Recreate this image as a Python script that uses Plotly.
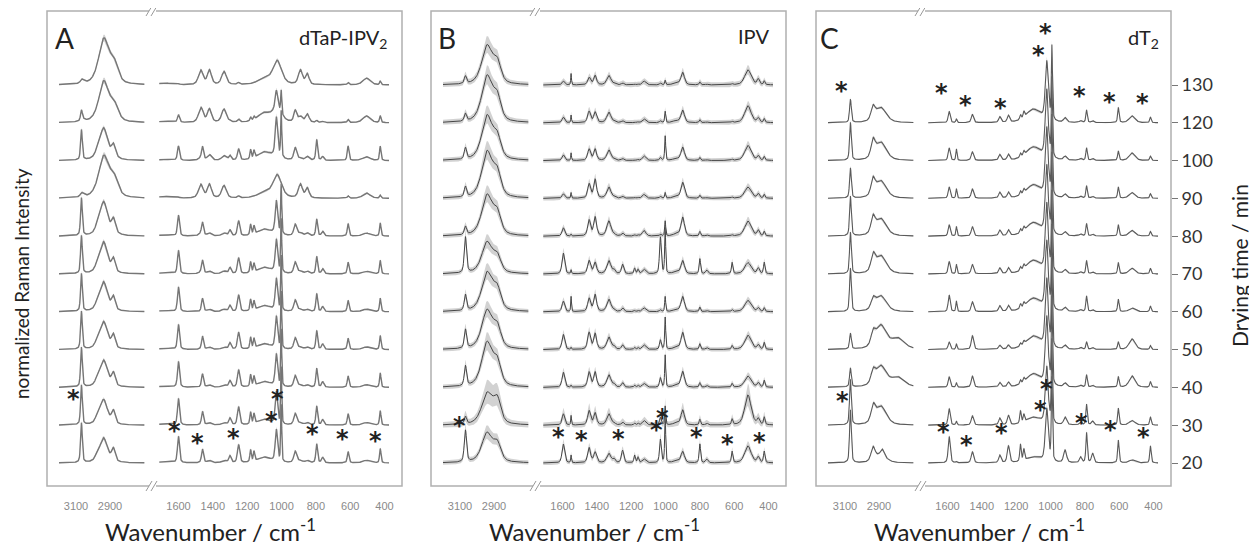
import numpy as np
import plotly.graph_objects as go

W, H = 1257, 547

# ---------------- data ----------------
times_AB = [20, 30, 40, 50, 60, 70, 80, 90, 100, 120, 130]
times_C = [20, 30, 40, 50, 60, 70, 80, 90, 100, 120]
time_ticks = [20, 30, 40, 50, 60, 70, 80, 90, 100, 120, 130]

high_ticks = [3100, 2900]
low_ticks = [1600, 1400, 1200, 1000, 800, 600, 400]

# Panel A  (dTaP-IPV2): peak centres (cm-1), half widths (cm-1), heights per row
A_high_pos = [3068, 3060, 2975, 2938, 2935, 2880, 2875]
A_high_hw = [6, 15, 14, 24, 40, 12, 28]
A_high = [
    [1.05, 0, 0.12, 0.50, 0.15, 0.33, 0],
    [1.05, 0, 0.12, 0.52, 0.15, 0.33, 0],
    [1.05, 0, 0.12, 0.55, 0.16, 0.33, 0],
    [1.00, 0, 0.12, 0.55, 0.18, 0.33, 0],
    [1.00, 0, 0.12, 0.58, 0.20, 0.33, 0],
    [1.00, 0, 0.12, 0.62, 0.22, 0.33, 0],
    [1.00, 0, 0.12, 0.65, 0.25, 0.33, 0.05],
    [0.05, 0.08, 0, 0.18, 0.92, 0, 0.42],
    [0.80, 0, 0.10, 0.55, 0.30, 0.28, 0.05],
    [0.25, 0.06, 0, 0.28, 0.80, 0, 0.38],
    [0.05, 0.08, 0, 0.20, 1.00, 0, 0.45],
]
A_low_pos = [1680, 1600, 1470, 1460, 1420, 1335, 1300, 1250, 1180, 1160, 1100,
             1030, 1025, 1002, 920, 890, 850, 795, 760, 612, 505, 425]
A_low_hw = [50, 7, 16, 7, 14, 16, 8, 8, 5, 5, 45, 8, 30, 3.5, 10, 14, 12, 6, 8, 6, 25, 5]
A_low = [
    [0.03, 0.70, 0, 0.36, 0.06, 0.06, 0.18, 0.48, 0.32, 0.26, 0.15, 0.85, 0, 1.5, 0.30, 0.06, 0.06, 0.50, 0.14, 0.30, 0.07, 0.38],
    [0.03, 0.70, 0, 0.36, 0.06, 0.06, 0.18, 0.48, 0.32, 0.26, 0.15, 0.85, 0, 1.5, 0.30, 0.06, 0.06, 0.50, 0.14, 0.30, 0.07, 0.38],
    [0.03, 0.68, 0, 0.35, 0.06, 0.06, 0.17, 0.46, 0.31, 0.25, 0.15, 0.85, 0, 1.5, 0.30, 0.06, 0.06, 0.50, 0.14, 0.30, 0.07, 0.38],
    [0.03, 0.66, 0, 0.35, 0.06, 0.06, 0.17, 0.45, 0.30, 0.25, 0.15, 0.85, 0, 1.5, 0.30, 0.06, 0.06, 0.50, 0.14, 0.30, 0.07, 0.37],
    [0.03, 0.65, 0, 0.35, 0.06, 0.06, 0.16, 0.44, 0.30, 0.24, 0.16, 0.85, 0, 1.45, 0.30, 0.06, 0.06, 0.48, 0.13, 0.30, 0.07, 0.36],
    [0.03, 0.62, 0.03, 0.34, 0.07, 0.07, 0.16, 0.42, 0.29, 0.23, 0.17, 0.85, 0.03, 1.4, 0.30, 0.07, 0.07, 0.46, 0.13, 0.31, 0.07, 0.36],
    [0.03, 0.55, 0.05, 0.33, 0.08, 0.08, 0.15, 0.40, 0.28, 0.22, 0.18, 0.85, 0.05, 1.3, 0.30, 0.08, 0.08, 0.45, 0.12, 0.33, 0.08, 0.35],
    [0.05, 0.02, 0.36, 0, 0.36, 0.33, 0, 0.05, 0, 0, 0.14, 0, 0.60, 0, 0, 0.36, 0.26, 0, 0, 0.06, 0.14, 0.08],
    [0.03, 0.38, 0.05, 0.33, 0.15, 0.12, 0.12, 0.30, 0.25, 0.20, 0.22, 1.00, 0.10, 1.2, 0.33, 0.05, 0.10, 0.55, 0.10, 0.38, 0.10, 0.38],
    [0.04, 0.20, 0.38, 0.03, 0.35, 0.35, 0.03, 0.08, 0.10, 0.08, 0.25, 0.45, 0.35, 0.6, 0.30, 0.15, 0.22, 0.05, 0.03, 0.08, 0.18, 0.18],
    [0.05, 0.02, 0.38, 0, 0.38, 0.35, 0, 0.05, 0, 0, 0.15, 0, 0.62, 0, 0, 0.38, 0.28, 0, 0, 0.06, 0.18, 0.10],
]
A_band_const = [0.012] * 11
A_band_rel = [0.06] * 11

# Panel B (IPV)
B_high_pos = [3068, 2945, 2935, 2880]
B_high_hw = [8, 28, 45, 25]
B_high = [
    [0.84, 0.30, 0.50, 0.40],
    [0.20, 0.25, 0.60, 0.55],
    [0.53, 0.40, 0.80, 0.50],
    [0.50, 0.35, 0.70, 0.45],
    [0.42, 0.35, 0.70, 0.45],
    [0.95, 0.30, 0.55, 0.35],
    [0.22, 0.35, 0.75, 0.45],
    [0.27, 0.40, 0.85, 0.50],
    [0.30, 0.40, 0.80, 0.45],
    [0.20, 0.40, 0.85, 0.50],
    [0.20, 0.35, 0.70, 0.45],
]
B_low_pos = [1595, 1550, 1445, 1410, 1330, 1300, 1250, 1180, 1160, 1125,
             1030, 1002, 940, 900, 800, 760, 612, 520, 460, 425]
B_low_hw = [9, 2.5, 10, 10, 14, 8, 8, 5, 5, 12, 6, 3.5, 20, 12, 5, 8, 5, 22, 8, 5]
B_low = [
    [0.50, 0.20, 0.40, 0.28, 0.25, 0.10, 0.33, 0.20, 0.15, 0.10, 0.62, 1.25, 0.05, 0.30, 0.50, 0.10, 0.30, 0.45, 0.15, 0.30],
    [0.30, 0.25, 0.38, 0.32, 0.30, 0.05, 0.08, 0.05, 0.05, 0.12, 0.20, 0.50, 0.05, 0.40, 0.15, 0.05, 0.15, 0.80, 0.15, 0.20],
    [0.40, 0.05, 0.40, 0.40, 0.33, 0.08, 0.12, 0.05, 0.05, 0.10, 0.25, 0.85, 0.05, 0.42, 0.12, 0.05, 0.10, 0.30, 0.12, 0.18],
    [0.40, 0.05, 0.45, 0.42, 0.33, 0.08, 0.12, 0.05, 0.05, 0.12, 0.25, 0.85, 0.05, 0.45, 0.15, 0.05, 0.10, 0.38, 0.12, 0.18],
    [0.28, 0.40, 0.35, 0.45, 0.33, 0.05, 0.10, 0.03, 0.03, 0.10, 0.05, 0.40, 0.05, 0.40, 0.12, 0.03, 0.05, 0.30, 0.10, 0.10],
    [0.55, 0.10, 0.35, 0.30, 0.35, 0.10, 0.25, 0.15, 0.12, 0.12, 1.00, 1.20, 0.05, 0.35, 0.40, 0.10, 0.30, 0.30, 0.15, 0.30],
    [0.22, 0.05, 0.42, 0.50, 0.40, 0.05, 0.08, 0.03, 0.03, 0.15, 0.05, 0.40, 0.05, 0.50, 0.12, 0.03, 0.03, 0.40, 0.15, 0.12],
    [0.12, 0.15, 0.38, 0.50, 0.30, 0.03, 0.05, 0.02, 0.02, 0.10, 0.05, 0.15, 0.05, 0.42, 0.08, 0.02, 0.03, 0.30, 0.12, 0.10],
    [0.15, 0.20, 0.30, 0.30, 0.28, 0.03, 0.05, 0.02, 0.02, 0.12, 0.08, 0.65, 0.05, 0.35, 0.08, 0.02, 0.03, 0.40, 0.12, 0.10],
    [0.15, 0.20, 0.30, 0.28, 0.28, 0.03, 0.05, 0.02, 0.02, 0.10, 0.05, 0.30, 0.05, 0.33, 0.08, 0.02, 0.03, 0.45, 0.12, 0.10],
    [0.10, 0.30, 0.20, 0.25, 0.25, 0.03, 0.05, 0.02, 0.02, 0.10, 0.05, 0.12, 0.05, 0.33, 0.08, 0.02, 0.03, 0.40, 0.15, 0.10],
]
B_band_const = [0.055, 0.07, 0.055, 0.055, 0.055, 0.055, 0.055, 0.055, 0.055, 0.06, 0.065]
B_band_rel = [0.15, 0.28, 0.15, 0.15, 0.15, 0.15, 0.15, 0.15, 0.15, 0.15, 0.15]

# Panel C (dT2)
C_high_pos = [3068, 2935, 2890, 2880, 2790]
C_high_hw = [6, 14, 38, 10, 45]
C_high = [
    [1.40, 0.35, 0.22, 0.15, 0],
    [1.20, 0.40, 0.50, 0, 0],
    [0.50, 0.30, 0.55, 0, 0.25],
    [0.42, 0.30, 0.62, 0, 0.28],
    [1.15, 0.25, 0.42, 0, 0],
    [1.10, 0.40, 0.48, 0, 0],
    [1.05, 0.40, 0.46, 0, 0],
    [0.80, 0.40, 0.46, 0, 0],
    [1.00, 0.42, 0.48, 0, 0],
    [0.62, 0.32, 0.40, 0, 0],
]
C_low_pos = [1590, 1548, 1455, 1295, 1245, 1175, 1155, 1100, 1022, 992,
             915, 825, 790, 755, 605, 525, 418]
C_low_hw = [7, 4, 8, 8, 8, 5, 5, 50, 10, 4, 10, 8, 5, 8, 5, 20, 5]
C_low = [
    [0.70, 0.03, 0.30, 0.20, 0.45, 0.45, 0.30, 0.15, 1.40, 2.2, 0.33, 0.15, 0.80, 0.25, 0.60, 0.08, 0.45],
    [0.44, 0.10, 0.25, 0.18, 0.25, 0.33, 0.20, 0.20, 1.50, 2.2, 0.20, 0.08, 0.55, 0.10, 0.45, 0.12, 0.22],
    [0.28, 0.12, 0.30, 0.12, 0.12, 0.10, 0.10, 0.35, 1.80, 2.3, 0.10, 0.05, 0.33, 0.05, 0.28, 0.30, 0.15],
    [0.20, 0.15, 0.37, 0.10, 0.10, 0.08, 0.08, 0.35, 1.80, 2.3, 0.10, 0.05, 0.20, 0.05, 0.20, 0.28, 0.10],
    [0.44, 0.28, 0.26, 0.15, 0.15, 0.12, 0.10, 0.35, 1.80, 2.2, 0.10, 0.05, 0.41, 0.05, 0.33, 0.10, 0.15],
    [0.33, 0.25, 0.25, 0.15, 0.15, 0.10, 0.10, 0.35, 1.80, 2.1, 0.10, 0.05, 0.35, 0.05, 0.30, 0.15, 0.15],
    [0.30, 0.25, 0.25, 0.15, 0.15, 0.10, 0.10, 0.35, 1.80, 2.1, 0.10, 0.05, 0.33, 0.05, 0.30, 0.15, 0.12],
    [0.30, 0.25, 0.25, 0.15, 0.15, 0.10, 0.10, 0.35, 1.80, 2.1, 0.10, 0.05, 0.33, 0.05, 0.30, 0.15, 0.12],
    [0.33, 0.30, 0.23, 0.15, 0.15, 0.10, 0.10, 0.35, 1.80, 2.1, 0.10, 0.05, 0.33, 0.05, 0.25, 0.20, 0.12],
    [0.30, 0.10, 0.22, 0.15, 0.18, 0.12, 0.15, 0.35, 1.55, 1.95, 0.12, 0.05, 0.33, 0.05, 0.40, 0.18, 0.15],
]
C_band_const = [0.015] * 10
C_band_rel = [0.05] * 10

# asterisk marks: (wavenumber, height in row units)
A_marks_wn = [3112, 1626, 1488, 1281, 1057, 1022, 821, 646, 451]
A_marks_h = [1.83, 0.98, 0.66, 0.80, 1.24, 1.83, 0.89, 0.76, 0.71]
B_marks_wn = [3104, 1624, 1488, 1271, 1055, 1019, 818, 638, 450]
B_marks_h = [1.12, 0.83, 0.74, 0.77, 1.01, 1.33, 0.83, 0.63, 0.68]
C_marks_wn = [3114, 1624, 1492, 1284, 1061, 1022, 818, 648, 460,
              3119, 1634, 1498, 1290, 1071, 1032, 832, 658, 463]
C_marks_h = [1.77, 0.96, 0.61, 0.92, 1.53, 2.09, 1.18, 1.01, 0.83,
             9.97, 9.91, 9.60, 9.53, 10.93, 11.5, 9.85, 9.69, 9.65]

# ---------------- geometry ----------------
FONT = "Lato"
OX, OY = 8, 8                  # page offset of the plot div
BOX_W = 355
BOX_TOP, BOX_BOT = 11, 486
BREAK = 106
panel_left = [47, 431, 816]
HS, LS = 0.17, 0.1717          # px per cm-1
HIGH_RANGE = [3100 + 29 / HS, 3100 - (BREAK - 29) / HS]
LOW_RANGE = [1600 + (131.5 - BREAK) / LS, 1600 - (BOX_W - 131.5) / LS]
Y_RANGE = [-(BOX_BOT - 463) / 37.8, 10 + (85 - BOX_TOP) / 37.8]


def PX(x):
    return (x - OX) / W


def PY(y):
    return 1 - (y - OY) / H


YDOM = [PY(BOX_BOT), PY(BOX_TOP)]

high_wn = np.arange(3200, 2697, -2.0)
low_wn = np.arange(1712, 373, -1.0)


def spectrum(wn, pos, hw, heights):
    out = np.zeros_like(wn)
    for p, w, h in zip(pos, hw, heights):
        d2 = ((wn - p) / w) ** 2
        out += h * (0.5 / (1 + d2) + 0.5 * np.exp(-np.log(2) * d2))
    return out


fig = go.Figure()

panels = [
    dict(hp=A_high_pos, hw=A_high_hw, hr=A_high, lp=A_low_pos, lw=A_low_hw, lr=A_low,
         b0=A_band_const, b1=A_band_rel, col="#767676", width=1.4, y="y"),
    dict(hp=B_high_pos, hw=B_high_hw, hr=B_high, lp=B_low_pos, lw=B_low_hw, lr=B_low,
         b0=B_band_const, b1=B_band_rel, col="#454545", width=1.0, y="y"),
    dict(hp=C_high_pos, hw=C_high_hw, hr=C_high, lp=C_low_pos, lw=C_low_hw, lr=C_low,
         b0=C_band_const, b1=C_band_rel, col="#5a5a5a", width=1.1, y="y2"),
]

for p, P in enumerate(panels):
    xa_h = "x" if p == 0 else f"x{2 * p + 1}"
    xa_l = f"x{2 * p + 2}"
    for k in range(len(P["hr"])):
        for wn, pos, hw, rows, xa in [(high_wn, P["hp"], P["hw"], P["hr"], xa_h),
                                      (low_wn, P["lp"], P["lw"], P["lr"], xa_l)]:
            s = spectrum(wn, pos, hw, rows[k])
            band = P["b0"][k] + P["b1"][k] * s
            up, lo = k + s + band, k + s - band
            fig.add_trace(go.Scatter(
                x=np.concatenate([wn, wn[::-1]]), y=np.concatenate([up, lo[::-1]]),
                fill="toself", fillcolor="rgba(195,195,195,0.75)", line=dict(width=0),
                mode="lines", hoverinfo="skip", showlegend=False, xaxis=xa, yaxis=P["y"]))
            fig.add_trace(go.Scatter(
                x=wn, y=k + s, mode="lines", line=dict(color=P["col"], width=P["width"]),
                hoverinfo="skip", showlegend=False, xaxis=xa, yaxis=P["y"]))

layout = dict(
    template="none",
    width=W, height=H, margin=dict(l=0, r=0, t=0, b=0, pad=0, autoexpand=False),
    paper_bgcolor="white", plot_bgcolor="rgba(0,0,0,0)",
    font=dict(family=FONT, color="#222"), showlegend=False,
)
for p, L in enumerate(panel_left):
    ya = "y" if p < 2 else "y2"
    hi_name = "xaxis" if p == 0 else f"xaxis{2 * p + 1}"
    lo_name = f"xaxis{2 * p + 2}"
    common = dict(showgrid=False, zeroline=False, showline=False, ticks="", automargin=False,
                  tickfont=dict(size=11, color="#8a8a8a", family="Liberation Sans"),
                  ticklabelstandoff=12, anchor=ya, fixedrange=True)
    layout[hi_name] = dict(domain=[PX(L), PX(L + BREAK)], range=HIGH_RANGE,
                           tickvals=high_ticks, **common)
    layout[lo_name] = dict(domain=[PX(L + BREAK), PX(L + BOX_W)], range=LOW_RANGE,
                           tickvals=low_ticks, **common)

layout["yaxis"] = dict(domain=YDOM, range=Y_RANGE, visible=False, fixedrange=True,
                       anchor="x", automargin=False)
layout["yaxis2"] = dict(domain=YDOM, range=Y_RANGE, anchor="x6", side="right", automargin=False,
                        tickvals=list(range(len(time_ticks))), ticktext=[str(t) for t in time_ticks],
                        ticks="outside", ticklen=6, tickcolor="#777", tickwidth=1,
                        tickfont=dict(size=18, color="#333", family=FONT),
                        showgrid=False, zeroline=False, showline=False, fixedrange=True)
fig.update_layout(**layout)

shapes = []
for L in panel_left:
    shapes.append(dict(type="rect", xref="paper", yref="paper",
                       x0=PX(L), x1=PX(L + BOX_W), y0=PY(BOX_BOT), y1=PY(BOX_TOP),
                       line=dict(color="#b0b0b0", width=1.5), fillcolor="rgba(0,0,0,0)"))
    for yb in (BOX_TOP, BOX_BOT):
        bx = L + BREAK
        shapes.append(dict(type="rect", xref="paper", yref="paper",
                           x0=PX(bx - 4), x1=PX(bx + 3), y0=PY(yb + 2), y1=PY(yb - 2),
                           line=dict(width=0), fillcolor="white"))
        for dx in (-4, 1):
            shapes.append(dict(type="line", xref="paper", yref="paper",
                               x0=PX(bx + dx - 3), x1=PX(bx + dx + 3),
                               y0=PY(yb + 5), y1=PY(yb - 5),
                               line=dict(color="#999", width=1)))
fig.update_layout(shapes=shapes)

ann = []


def txt(x, y, s, size, **kw):
    d = dict(x=PX(x), y=PY(y), xref="paper", yref="paper", text=s, showarrow=False,
             xanchor="center", yanchor="middle",
             font=dict(size=size, family=FONT, color=kw.pop("color", "#222")))
    d.update(kw)
    ann.append(d)


txt(64.5, 38, "A", 28)
txt(447, 38, "B", 28)
txt(829.5, 38, "C", 28)
txt(389, 39, "dTaP-IPV<sub>2</sub>", 20, xanchor="right")
txt(771, 36, "IPV", 20, xanchor="right")
txt(1161, 39, "dT<sub>2</sub>", 20, xanchor="right")
for L in panel_left:
    txt(L + 163, 530, "Wavenumber / cm<sup>-1</sup>", 24)
txt(21, 284, "normalized Raman Intensity", 19, textangle=-90)
txt(1239, 266, "Drying time / min", 21, textangle=-90)

for p, (wns, hs) in enumerate([(A_marks_wn, A_marks_h), (B_marks_wn, B_marks_h), (C_marks_wn, C_marks_h)]):
    ya = "y" if p < 2 else "y2"
    for wn, h in zip(wns, hs):
        xa = ("x" if p == 0 else f"x{2 * p + 1}") if wn > 2000 else f"x{2 * p + 2}"
        ann.append(dict(x=wn, y=h, xref=xa, yref=ya, text="<b>*</b>", showarrow=False,
                        xanchor="center", yanchor="middle",
                        yshift=-5, font=dict(size=24, family="DejaVu Sans", color="#222")))

fig.update_layout(annotations=ann)
fig.write_html("out.html")
